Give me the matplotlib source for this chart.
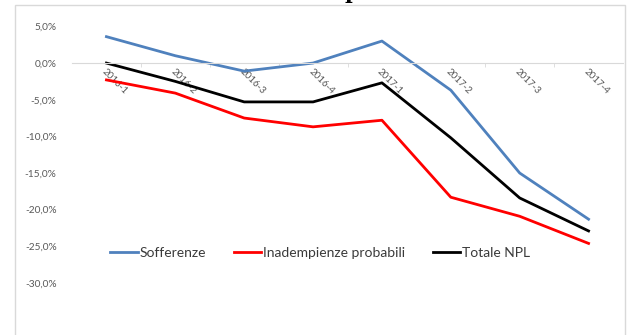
import numpy as np
import matplotlib
matplotlib.use("Agg")
import matplotlib.pyplot as plt
from matplotlib.patches import Rectangle
from matplotlib.ticker import FuncFormatter, FixedLocator

# Quarterly change (%) of non-performing loans
periods = ["2016-1", "2016-2", "2016-3", "2016-4",
           "2017-1", "2017-2", "2017-3", "2017-4"]
sofferenze = [3.6, 1.0, -1.1, 0.0, 3.0, -3.7, -15.0, -21.3]
inadempienze = [-2.3, -4.1, -7.5, -8.7, -7.8, -18.3, -20.9, -24.6]
totale_npl = [0.0, -2.5, -5.3, -5.3, -2.7, -10.2, -18.4, -22.9]

plt.rcParams["font.family"] = ["Lato", "DejaVu Sans"]

W, H = 636, 335
fig = plt.figure(figsize=(W / 100, H / 100), dpi=100)

# chart area border
fig.patches.append(Rectangle((15 / W, -0.1), 610 / W, 1.1 - 5 / H,
                             transform=fig.transFigure, fill=False,
                             edgecolor="#D9D9D9", lw=1.0))
# bottom of a title glyph above the chart area
fig.text(352 / W, 1 + 1 / H, "p", family="DejaVu Serif", weight="bold",
         fontsize=15, ha="center", va="baseline", color="black")

ax = fig.add_axes([72 / W, 1 - 283 / H, 551 / W, (283 - 26.4) / H])
x = np.arange(len(periods))

ax.plot(x, sofferenze, color="#4F81BD", lw=2.0, label="Sofferenze")
ax.plot(x, inadempienze, color="#FF0000", lw=2.0, label="Inadempienze probabili")
ax.plot(x, totale_npl, color="black", lw=2.0, label="Totale NPL")

ax.set_xlim(-0.5, len(periods) - 0.5)
ax.set_ylim(-30, 5)
ax.set_yticks(np.arange(-30, 6, 5))
ax.yaxis.set_major_formatter(FuncFormatter(
    lambda v, _: f"{v:.1f}%".replace(".", ",")))

for s in ("top", "right", "left"):
    ax.spines[s].set_visible(False)
ax.spines["bottom"].set_position(("data", 0))
ax.spines["bottom"].set_color("#D9D9D9")
ax.set_axisbelow(True)

ax.set_xticks(x)
ax.set_xticklabels(periods, rotation=-45, ha="left", va="top",
                   rotation_mode="anchor")
ax.xaxis.set_minor_locator(FixedLocator(np.arange(0.5, len(periods) - 1, 1)))
ax.tick_params(axis="x", which="major", length=0, pad=3,
               labelsize=7, labelcolor="#595959")
ax.tick_params(axis="x", which="minor", length=3, color="#D9D9D9")
ax.tick_params(axis="y", length=0, pad=11, labelsize=7.3, labelcolor="#595959")

fig.legend(loc="center", bbox_to_anchor=(320 / W, 1 - 253 / H), ncol=3,
           frameon=False, fontsize=10, handlelength=2.0, handletextpad=0.1,
           columnspacing=2.0, labelcolor="#3A3A3A")

fig.savefig("out.png", dpi=100)
